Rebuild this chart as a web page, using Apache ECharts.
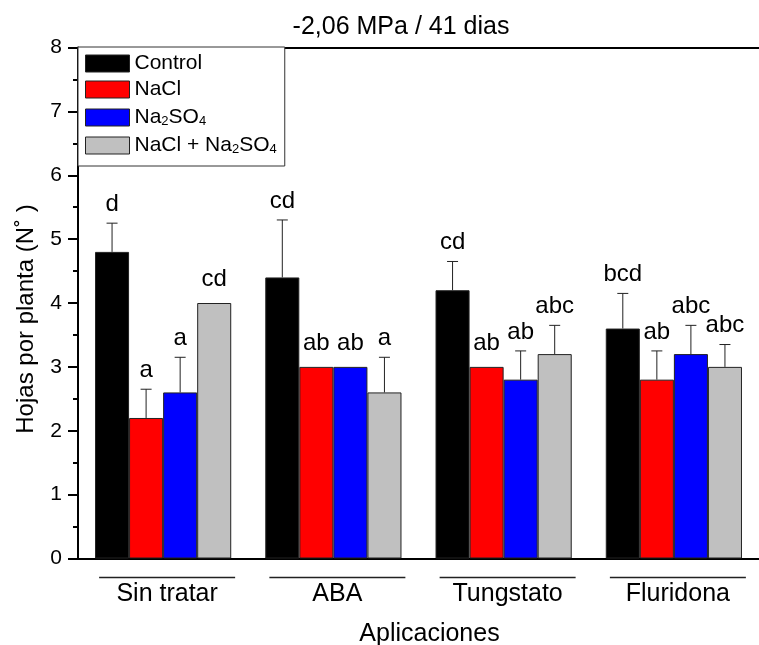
<!DOCTYPE html>
<html>
<head>
<meta charset="utf-8">
<style>
  html, body { margin: 0; padding: 0; background: #fff; }
  #chart { width: 759px; height: 645px; }
</style>
<script src="https://cdn.jsdelivr.net/npm/echarts@6/dist/echarts.min.js"></script>
</head>
<body>
<div id="chart"></div>
<script>
// Leaves per plant under -2.06 MPa after 41 days
const categories = ['Sin tratar', 'ABA', 'Tungstato', 'Fluridona'];
const seriesNames = ['Control', 'NaCl', 'Na2SO4', 'NaCl + Na2SO4'];

const controlMean = [4.8, 4.4, 4.2, 3.6];
const naclMean = [2.2, 3.0, 3.0, 2.8];
const na2so4Mean = [2.6, 3.0, 2.8, 3.2];
const mixMean = [4.0, 2.6, 3.2, 3.0];

const controlErr = [0.45, 0.9, 0.45, 0.55];
const naclErr = [0.45, 0, 0, 0.45];
const na2so4Err = [0.55, 0, 0.45, 0.45];
const mixErr = [0, 0.55, 0.45, 0.35];

const controlLetters = ['d', 'cd', 'cd', 'bcd'];
const naclLetters = ['a', 'ab', 'ab', 'ab'];
const na2so4Letters = ['a', 'ab', 'ab', 'abc'];
const mixLetters = ['cd', 'a', 'abc', 'abc'];

const yTicks = [0, 1, 2, 3, 4, 5, 6, 7, 8];

const means = [controlMean, naclMean, na2so4Mean, mixMean];
const errs = [controlErr, naclErr, na2so4Err, mixErr];
const letters = [controlLetters, naclLetters, na2so4Letters, mixLetters];
const colors = ['#000000', '#ff0000', '#0000ff', '#c0c0c0'];

const FONT = '"Liberation Sans", Arial, Helvetica, sans-serif';
const CAT_GAP = 0.2; // fraction of the band left empty

const chart = echarts.init(document.getElementById('chart'), null, { renderer: 'canvas' });

// Error bars and significance letters placed through the category/value scales
function errorRenderer(k) {
  return function (params, api) {
    const idx = api.value(0);
    const mean = api.value(1);
    const err = api.value(2);
    const band = api.size([1, 0])[0];
    const barW = band * (1 - CAT_GAP) / 4;
    const center = api.coord([idx, 0])[0];
    const x = center + (k - 1.5) * barW;
    const top = api.coord([idx, mean + err])[1];
    const base = api.coord([idx, mean])[1];
    const children = [];
    if (err > 0) {
      children.push({
        type: 'line',
        shape: { x1: x, y1: base, x2: x, y2: top },
        style: { stroke: '#222', lineWidth: 1 }
      });
      children.push({
        type: 'line',
        shape: { x1: x - 5.5, y1: top, x2: x + 5.5, y2: top },
        style: { stroke: '#222', lineWidth: 1 }
      });
    }
    children.push({
      type: 'text',
      style: {
        x: x,
        y: top - (err > 0 ? 7 : 12),
        text: letters[k][idx],
        fill: '#000',
        font: '24px ' + FONT,
        textAlign: 'center',
        textVerticalAlign: 'bottom'
      }
    });
    return { type: 'group', children: children };
  };
}

const barSeries = means.map((m, k) => ({
  name: seriesNames[k],
  type: 'bar',
  data: m,
  barGap: '0%',
  barCategoryGap: (CAT_GAP * 100) + '%',
  itemStyle: { color: colors[k], borderColor: '#222', borderWidth: 1 },
  emphasis: { disabled: true },
  silent: true,
  z: 2
}));

const errSeries = means.map((m, k) => ({
  type: 'custom',
  data: m.map((v, i) => [i, v, errs[k][i]]),
  encode: { x: 0, y: [1] },
  renderItem: errorRenderer(k),
  silent: true,
  z: 3
}));

const option = {
  animation: false,
  backgroundColor: '#fff',
  textStyle: { fontFamily: FONT },
  title: {
    text: '-2,06 MPa / 41 dias',
    left: 396,
    textAlign: 'center',
    top: 10,
    textStyle: { fontSize: 25, fontWeight: 'normal', color: '#000', fontFamily: FONT }
  },
  legend: {
    orient: 'vertical',
    left: 78,
    top: 47,
    padding: [6, 8, 10, 7],
    icon: 'rect',
    itemWidth: 44,
    itemHeight: 17,
    itemGap: 5,
    borderColor: '#333',
    borderWidth: 1,
    backgroundColor: '#fff',
    selectedMode: false,
    data: seriesNames,
    formatter: function (name) {
      return name.replace(/Na2SO4/g, 'Na{sub|2}SO{sub|4}');
    },
    itemStyle: { borderColor: '#222', borderWidth: 1 },
    textStyle: {
      fontSize: 21,
      lineHeight: 21,
      color: '#000',
      fontFamily: FONT,
      rich: {
        sub: { fontSize: 13, verticalAlign: 'bottom', lineHeight: 13, padding: [10, 0, 0, 0], fontFamily: FONT, color: '#000' }
      }
    },
    z: 10
  },
  grid: {
    left: 78, right: 0, top: 47.5, bottom: 86.5,
    containLabel: false,
    outerBoundsMode: 'none'
  },
  xAxis: [
    {
      type: 'category',
      data: categories,
      name: 'Aplicaciones',
      nameLocation: 'middle',
      nameGap: 63,
      nameTextStyle: { fontSize: 25, color: '#000', fontFamily: FONT, padding: [0, 0, 0, 22] },
      axisLine: { show: true, lineStyle: { color: '#000', width: 2 } },
      axisTick: { show: false },
      axisLabel: {
        margin: 18,
        padding: [0, 0, 0, 8],
        formatter: function (v) { return '{line| }\n{name|' + v + '}'; },
        rich: {
          line: { width: 136, height: 1.5, lineHeight: 2, fontSize: 1, backgroundColor: '#222' },
          name: { fontSize: 25, color: '#000', fontFamily: FONT, lineHeight: 28, padding: [4, 0, 0, 0] }
        }
      },
      splitLine: { show: false }
    },
    {
      type: 'category',
      position: 'top',
      data: categories,
      axisLine: { show: true, lineStyle: { color: '#000', width: 2 } },
      axisTick: { show: false },
      axisLabel: { show: false },
      splitLine: { show: false }
    }
  ],
  yAxis: {
    type: 'value',
    min: yTicks[0],
    max: yTicks[yTicks.length - 1],
    interval: 1,
    name: 'Hojas por planta (N˚ )',
    nameLocation: 'middle',
    nameGap: 40,
    nameTextStyle: { fontSize: 24, color: '#000', fontFamily: FONT, padding: [0, 0, 0, -32] },
    axisLine: { show: true, lineStyle: { color: '#000', width: 2 } },
    axisTick: { show: true, inside: false, length: 10, lineStyle: { color: '#000', width: 2 } },
    minorTick: { show: true, splitNumber: 2, length: 5, lineStyle: { color: '#000', width: 2 } },
    axisLabel: { margin: 16, fontSize: 21, color: '#000', fontFamily: FONT },
    splitLine: { show: false }
  },
  series: barSeries.concat(errSeries)
};

chart.setOption(option);
</script>
</body>
</html>
